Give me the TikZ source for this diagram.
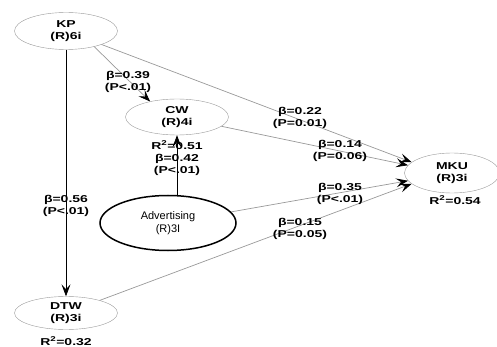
\documentclass[tikz,border=0pt]{standalone}
\usepackage{fontspec}
\usetikzlibrary{shapes.geometric,arrows.meta}
\setsansfont{Liberation Sans}
\newfontfamily\widefont{Liberation Sans}[FakeStretch=1.4]

\begin{document}
\begin{tikzpicture}[x=1pt, y=-1pt,
  construct/.style={ellipse, draw=gray!80, thin, inner sep=0pt, align=center,
    minimum width=103pt, minimum height=37pt,
    font=\widefont\bfseries\fontsize{10}{12.5}\selectfont},
  coef/.style={align=center, inner sep=0pt,
    font=\widefont\bfseries\fontsize{10}{12}\selectfont},
  effect/.style={draw=gray!80, line width=0.7pt, -{Stealth[length=12pt, width=9pt, inset=5pt, color=black]}},
  direct/.style={draw=black, line width=0.7pt, -{Stealth[length=12pt, width=9pt, inset=5pt, color=black]}}]
\useasboundingbox (0,0) rectangle (497,347);

% constructs
\node[construct] (kp) at (66,31) {KP\\(R)6i};
\node[construct, minimum height=36pt] (cw) at (177,117) {CW\\(R)4i};
\node[construct, minimum width=95pt, minimum height=40pt] (mku) at (452,173) {MKU\\(R)3i};
\node[construct, minimum height=33pt] (dtw) at (66,313) {DTW\\(R)3i};
\node[ellipse, draw=black, line width=1.5pt, minimum width=136pt, minimum height=55pt,
  align=center, font=\sffamily\fontsize{11}{13.5}\selectfont] (adv) at (168,223) {Advertising\\(R)3I};

% paths
\draw[direct] (kp.south) -- (dtw.north);
\draw[effect] (kp.-29) -- (cw.150);
\draw[effect] (kp) -- (mku.165);
\draw[effect] (cw) -- (mku.170);
\draw[direct] (cw.south |- adv.north) -- (cw.south);
\draw[effect] (adv) -- (mku.190);
\draw[effect] (dtw) -- (mku.195);

% coefficients
\node[coef] (b1) at (128,82) {β=0.39\\(P<.01)};
\node[coef] (b2) at (300,118) {β=0.22\\(P=0.01)};
\node[coef] (b3) at (340,151) {β=0.14\\(P=0.06)};
\node[coef] (b4) at (177,158) {R\textsuperscript{2}=0.51\\β=0.42\\(P<.01)};
\node[coef] (b5) at (340,194) {β=0.35\\(P<.01)};
\node[coef] (b6) at (300,229) {β=0.15\\(P=0.05)};
\node[coef] (b7) at (66,206) {β=0.56\\(P<.01)};
\node[coef] (r1) at (455,200) {R\textsuperscript{2}=0.54};
\node[coef] (r2) at (66,341) {R\textsuperscript{2}=0.32};
\end{tikzpicture}
\end{document}
